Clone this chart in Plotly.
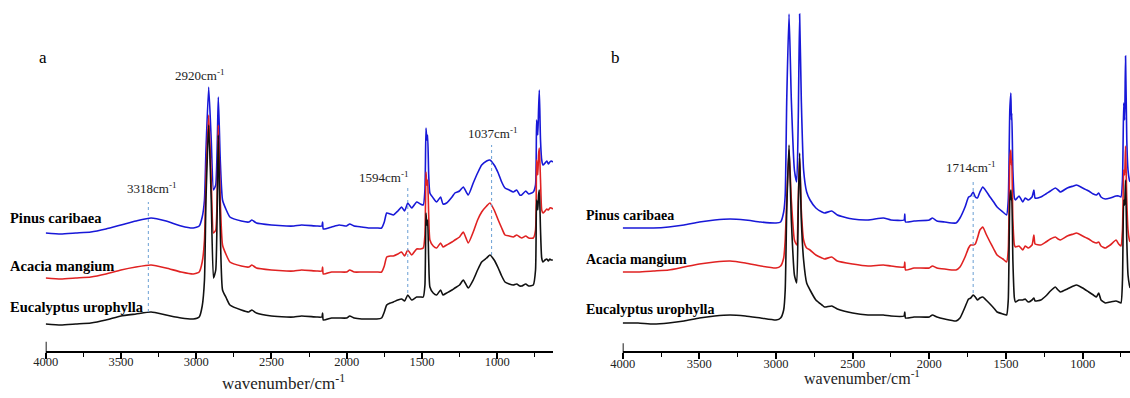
import plotly.graph_objects as go

# ---------------- Panel a data (wavenumber, absorbance a.u., stacked) ----------------
wn_a = [4000, 3900, 3800, 3700, 3600, 3500, 3400, 3300, 3200, 3100, 3020, 2980, 2960, 2945, 2935, 2917,
        2900, 2885, 2870, 2853, 2840, 2825, 2800, 2776, 2700, 2650, 2630, 2600, 2500, 2400, 2350, 2300,
        2200, 2165, 2160, 2155, 2100, 2050, 2000, 1980, 1950, 1900, 1850, 1800, 1768, 1750, 1734, 1710,
        1690, 1660, 1635, 1615, 1594, 1568, 1535, 1510, 1491, 1480, 1473, 1467, 1462, 1455, 1447, 1425,
        1402, 1376, 1360, 1336, 1300, 1281, 1250, 1225, 1192, 1159, 1130, 1103, 1070, 1048, 1020, 993,
        970, 948, 920, 893, 870, 850, 837, 810, 790, 760, 745, 738, 730, 725, 720, 712, 704, 695, 682,
        670, 660, 650, 640, 630]
pinus_a = [1.18, 1.17, 1.18, 1.19, 1.22, 1.26, 1.30, 1.33, 1.30, 1.25, 1.23, 1.25, 1.34, 1.51, 2.01, 2.64,
           2.11, 1.61, 1.66, 2.54, 1.91, 1.51, 1.41, 1.34, 1.30, 1.29, 1.31, 1.28, 1.26, 1.25, 1.25, 1.26,
           1.25, 1.25, 1.29, 1.22, 1.24, 1.26, 1.25, 1.27, 1.25, 1.24, 1.23, 1.23, 1.23, 1.29, 1.38, 1.37,
           1.36, 1.40, 1.44, 1.40, 1.48, 1.43, 1.49, 1.47, 1.46, 1.61, 2.23, 2.11, 2.16, 1.76, 1.58, 1.53,
           1.49, 1.54, 1.47, 1.48, 1.54, 1.58, 1.60, 1.64, 1.56, 1.68, 1.78, 1.86, 1.90, 1.91, 1.86, 1.78,
           1.69, 1.63, 1.61, 1.59, 1.61, 1.56, 1.56, 1.60, 1.57, 1.59, 1.66, 2.31, 2.16, 2.41, 2.61, 2.11,
           1.91, 1.86, 1.88, 1.90, 1.87, 1.89, 1.90, 1.89]
acacia_a = [0.73, 0.72, 0.73, 0.74, 0.77, 0.81, 0.84, 0.86, 0.83, 0.79, 0.77, 0.79, 0.89, 1.11, 1.71, 2.36,
            1.71, 1.18, 1.21, 2.26, 1.51, 1.06, 0.96, 0.89, 0.85, 0.84, 0.86, 0.83, 0.81, 0.80, 0.80, 0.81,
            0.80, 0.80, 0.84, 0.77, 0.79, 0.79, 0.79, 0.81, 0.79, 0.79, 0.79, 0.79, 0.79, 0.85, 0.94, 0.95,
            0.95, 0.97, 0.99, 0.95, 1.01, 0.96, 1.02, 1.02, 1.03, 1.16, 1.79, 1.66, 1.71, 1.36, 1.11, 1.05,
            1.03, 1.08, 1.04, 1.06, 1.09, 1.11, 1.14, 1.19, 1.08, 1.19, 1.31, 1.39, 1.45, 1.48, 1.41, 1.31,
            1.23, 1.16, 1.15, 1.14, 1.16, 1.14, 1.13, 1.15, 1.13, 1.13, 1.21, 1.91, 1.76, 1.96, 2.03, 1.71,
            1.41, 1.38, 1.40, 1.42, 1.41, 1.43, 1.43, 1.42]
eucal_a = [0.27, 0.26, 0.27, 0.28, 0.31, 0.35, 0.37, 0.39, 0.36, 0.33, 0.32, 0.34, 0.45, 0.71, 1.51, 2.26,
           1.51, 0.73, 0.81, 2.16, 1.21, 0.61, 0.53, 0.46, 0.41, 0.39, 0.41, 0.38, 0.35, 0.34, 0.34, 0.35,
           0.34, 0.34, 0.38, 0.31, 0.33, 0.33, 0.33, 0.35, 0.33, 0.32, 0.32, 0.32, 0.33, 0.39, 0.46, 0.48,
           0.49, 0.51, 0.52, 0.50, 0.56, 0.51, 0.54, 0.54, 0.54, 0.66, 1.38, 1.26, 1.31, 0.91, 0.64, 0.58,
           0.56, 0.61, 0.56, 0.58, 0.61, 0.63, 0.66, 0.71, 0.63, 0.71, 0.81, 0.89, 0.93, 0.96, 0.91, 0.83,
           0.75, 0.69, 0.67, 0.66, 0.67, 0.65, 0.65, 0.67, 0.65, 0.66, 0.81, 1.51, 1.41, 1.56, 1.61, 1.21,
           0.93, 0.89, 0.91, 0.92, 0.90, 0.92, 0.91, 0.91]

# ---------------- Panel b data ----------------
wn_b = [4000, 3900, 3800, 3700, 3600, 3500, 3400, 3300, 3200, 3100, 3000, 2970, 2950, 2940, 2930, 2915,
        2900, 2880, 2865, 2855, 2846, 2835, 2820, 2800, 2778, 2740, 2700, 2683, 2636, 2600, 2500, 2400,
        2300, 2250, 2165, 2160, 2155, 2100, 2000, 1980, 1950, 1900, 1826, 1800, 1767, 1744, 1730, 1714,
        1700, 1686, 1670, 1651, 1630, 1604, 1580, 1558, 1520, 1496, 1485, 1475, 1468, 1465, 1462, 1455,
        1445, 1438, 1415, 1390, 1375, 1355, 1330, 1318, 1310, 1273, 1240, 1210, 1178, 1160, 1145, 1100,
        1060, 1040, 1000, 960, 930, 910, 895, 880, 852, 820, 782, 765, 750, 740, 732, 726, 720, 712, 704,
        695, 690]
pinus_b = [1.23, 1.23, 1.23, 1.24, 1.26, 1.29, 1.31, 1.32, 1.31, 1.29, 1.28, 1.29, 1.39, 1.56, 2.51, 3.37,
           2.51, 1.81, 1.69, 2.31, 3.37, 2.51, 1.81, 1.59, 1.51, 1.43, 1.39, 1.38, 1.40, 1.36, 1.32, 1.31,
           1.33, 1.31, 1.31, 1.37, 1.29, 1.30, 1.31, 1.33, 1.30, 1.29, 1.28, 1.33, 1.44, 1.54, 1.55, 1.59,
           1.54, 1.53, 1.59, 1.64, 1.60, 1.54, 1.49, 1.44, 1.39, 1.36, 1.51, 2.41, 2.58, 2.31, 2.38, 1.81,
           1.53, 1.51, 1.55, 1.49, 1.53, 1.51, 1.54, 1.61, 1.53, 1.54, 1.57, 1.60, 1.63, 1.61, 1.59, 1.63,
           1.65, 1.66, 1.63, 1.60, 1.57, 1.56, 1.58, 1.54, 1.52, 1.53, 1.55, 1.55, 1.54, 1.71, 2.48, 2.31,
           2.95, 2.11, 1.81, 1.71, 1.69]
acacia_b = [0.79, 0.79, 0.80, 0.81, 0.84, 0.87, 0.89, 0.90, 0.88, 0.85, 0.83, 0.85, 0.93, 1.11, 1.51, 2.01,
            1.51, 1.11, 1.06, 1.51, 1.93, 1.41, 1.11, 1.03, 1.01, 0.96, 0.93, 0.92, 0.94, 0.90, 0.87, 0.85,
            0.86, 0.85, 0.84, 0.89, 0.81, 0.83, 0.83, 0.85, 0.83, 0.82, 0.81, 0.84, 0.94, 1.03, 1.06, 1.06,
            1.07, 1.13, 1.21, 1.24, 1.17, 1.09, 1.02, 0.96, 0.92, 0.89, 1.01, 1.91, 2.01, 1.86, 1.91, 1.31,
            1.06, 1.04, 1.05, 1.01, 1.05, 1.03, 1.06, 1.16, 1.07, 1.06, 1.09, 1.12, 1.14, 1.12, 1.11, 1.15,
            1.17, 1.18, 1.15, 1.12, 1.09, 1.08, 1.09, 1.05, 1.03, 1.06, 1.11, 1.07, 1.05, 1.21, 1.81, 1.76,
            2.05, 1.51, 1.21, 1.11, 1.09]
eucal_b = [0.28, 0.28, 0.27, 0.28, 0.30, 0.33, 0.35, 0.36, 0.35, 0.33, 0.31, 0.33, 0.41, 0.61, 1.41, 2.06,
           1.31, 0.76, 0.68, 1.41, 1.98, 1.31, 0.91, 0.68, 0.61, 0.51, 0.46, 0.44, 0.45, 0.42, 0.38, 0.36,
           0.36, 0.35, 0.35, 0.39, 0.33, 0.34, 0.34, 0.36, 0.34, 0.32, 0.30, 0.33, 0.44, 0.52, 0.53, 0.56,
           0.54, 0.51, 0.53, 0.54, 0.51, 0.47, 0.43, 0.39, 0.37, 0.36, 0.51, 1.51, 1.61, 1.51, 1.53, 0.91,
           0.53, 0.49, 0.51, 0.51, 0.52, 0.49, 0.51, 0.53, 0.50, 0.51, 0.55, 0.60, 0.64, 0.61, 0.59, 0.62,
           0.65, 0.66, 0.63, 0.59, 0.56, 0.54, 0.58, 0.51, 0.48, 0.49, 0.50, 0.49, 0.48, 0.71, 1.51, 1.46,
           1.71, 1.11, 0.76, 0.66, 0.63]

species = ["Pinus caribaea", "Acacia mangium", "Eucalyptus urophylla"]
colors = ["#1818d8", "#e02222", "#111111"]

# marked bands
bands_a = [3318, 2920, 1594, 1037]
bands_b = [1714]

SERIF = "Liberation Serif, Times New Roman, serif"

fig = go.Figure()
for name, ys, c in zip(species, [pinus_a, acacia_a, eucal_a], colors):
    fig.add_trace(go.Scatter(x=wn_a, y=ys, mode="lines", name=name,
                             line=dict(color=c, width=1.6, shape="spline", smoothing=0.5),
                             xaxis="x", yaxis="y", showlegend=False))
for name, ys, c in zip(species, [pinus_b, acacia_b, eucal_b], colors):
    fig.add_trace(go.Scatter(x=wn_b, y=ys, mode="lines", name=name,
                             line=dict(color=c, width=1.6, shape="spline", smoothing=0.5),
                             xaxis="x2", yaxis="y2", showlegend=False))

axis_common = dict(
    showline=True, linecolor="black", linewidth=1.8, showgrid=False, zeroline=False,
    automargin=False,
    ticks="outside", ticklen=6, tickwidth=1.6, tickcolor="black",
    tick0=4000, dtick=500,
    tickfont=dict(family=SERIF, size=12.5, color="#222"),
    minor=dict(ticks="outside", ticklen=4, tickwidth=1.4, tickcolor="black", dtick=250, showgrid=False),
)
yaxis_common = dict(visible=False, range=[0, 3.51], fixedrange=True, automargin=False)

fig.update_layout(
    width=1130, height=398, paper_bgcolor="white", plot_bgcolor="white",
    margin=dict(l=0, r=0, t=0, b=47, autoexpand=False),
    xaxis=dict(domain=[45.7 / 1130, 553 / 1130], range=[4000, 629], anchor="y",
               ticklabelstandoff=-8, **axis_common),
    yaxis=dict(domain=[0, 1], anchor="x", **yaxis_common),
    xaxis2=dict(domain=[622.7 / 1130, 1.0], range=[4000, 691], anchor="y2",
                ticklabelstandoff=-6, **axis_common),
    yaxis2=dict(domain=[0, 1], anchor="x2", **yaxis_common),
)

ann = []
# panel letters
ann.append(dict(x=43 / 1130, y=2.94, xref="paper", yref="y", text="a", showarrow=False,
                xanchor="center", yanchor="middle", font=dict(family=SERIF, size=17, color="black")))
ann.append(dict(x=615 / 1130, y=2.94, xref="paper", yref="y", text="b", showarrow=False,
                xanchor="center", yanchor="middle", font=dict(family=SERIF, size=17, color="black")))
# species labels
lab_a_y = [1.33, 0.85, 0.44]
lab_b_y = [1.36, 0.92, 0.42]
for name, ya in zip(species, lab_a_y):
    ann.append(dict(x=8 / 1130, y=ya, xref="paper", yref="y", text="<b>%s</b>" % name, showarrow=False,
                    xanchor="left", yanchor="middle", font=dict(family=SERIF, size=14.5, color="black")))
for name, yb in zip(species, lab_b_y):
    ann.append(dict(x=584 / 1130, y=yb, xref="paper", yref="y2", text="<b>%s</b>" % name, showarrow=False,
                    xanchor="left", yanchor="middle", font=dict(family=SERIF, size=14, color="black")))

# band labels and dotted guide lines
band_label_pos_a = {3318: (3294, 1.63), 2920: (2975, 2.76), 1594: (1753, 1.74), 1037: (1028, 2.18)}
band_line_y_a = {3318: (0.39, 1.49), 1594: (0.58, 1.64), 1037: (0.96, 2.06)}
for b in bands_a:
    lx, ly = band_label_pos_a[b]
    ann.append(dict(x=lx, y=ly, xref="x", yref="y", text="%dcm<sup>-1</sup>" % b, showarrow=False,
                    xanchor="center", yanchor="middle", font=dict(family=SERIF, size=13, color="#222")))
shapes = []
for b, (y0, y1) in band_line_y_a.items():
    shapes.append(dict(type="line", xref="x", yref="y", x0=b, x1=b, y0=y0, y1=y1,
                       line=dict(color="#6a9fd4", width=1, dash="dot")))
ann.append(dict(x=1732, y=1.84, xref="x2", yref="y2", text="1714cm<sup>-1</sup>", showarrow=False,
                xanchor="center", yanchor="middle", font=dict(family=SERIF, size=13, color="#222")))
for b in bands_b:
    shapes.append(dict(type="line", xref="x2", yref="y2", x0=b, x1=b, y0=0.58, y1=1.71,
                       line=dict(color="#6a9fd4", width=1, dash="dot")))

# short vertical bar at the left end of each axis
shapes.append(dict(type="line", xref="x", yref="paper", x0=4000, x1=4000, y0=-0.018, y1=0.026,
                   line=dict(color="black", width=1.8)))
shapes.append(dict(type="line", xref="x2", yref="paper", x0=4000, x1=4000, y0=-0.018, y1=0.022,
                   line=dict(color="black", width=1.8)))

# axis titles
ann.append(dict(x=283 / 1130, y=-31 / 351, xref="paper", yref="paper", text="wavenumber/cm<sup>-1</sup>",
                showarrow=False, xanchor="center", yanchor="middle",
                font=dict(family=SERIF, size=17, color="#222")))
ann.append(dict(x=862 / 1130, y=-26 / 351, xref="paper", yref="paper", text="wavenumber/cm<sup>-1</sup>",
                showarrow=False, xanchor="center", yanchor="middle",
                font=dict(family=SERIF, size=16, color="#222")))

fig.update_layout(annotations=ann, shapes=shapes)
fig.write_html("out.html")
